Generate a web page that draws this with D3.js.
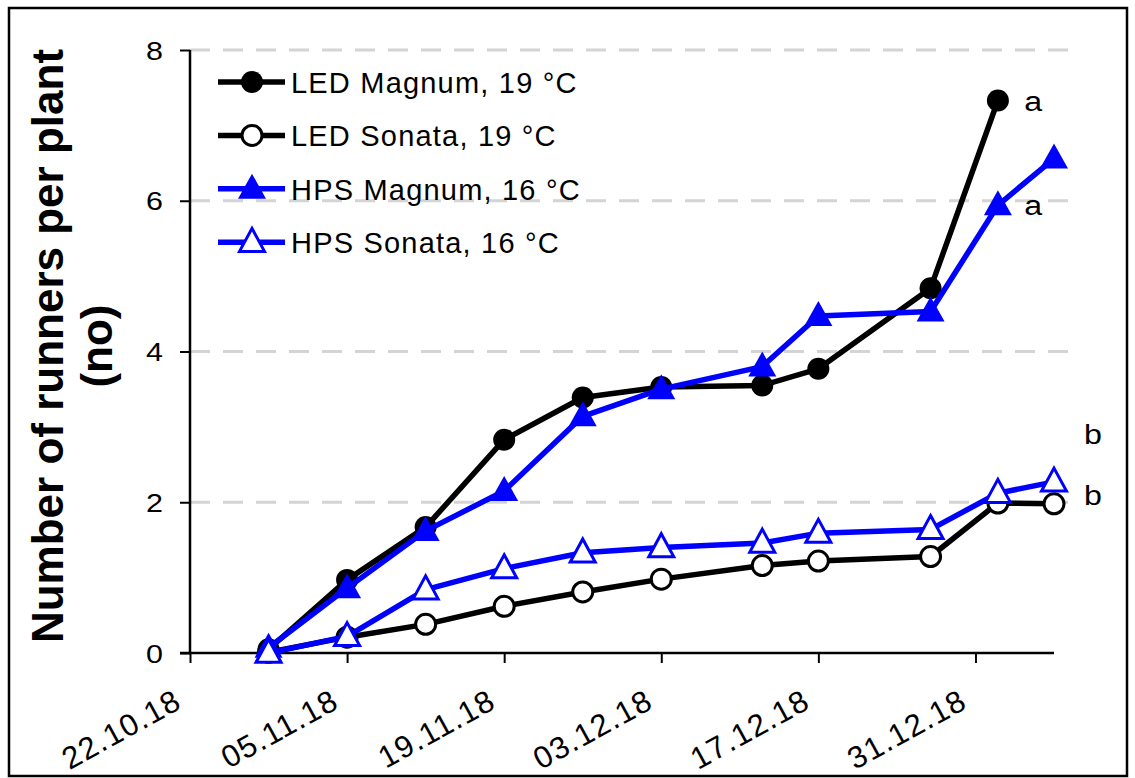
<!DOCTYPE html>
<html><head><meta charset="utf-8">
<script src="https://cdn.jsdelivr.net/npm/d3@7"></script>
<style>body{margin:0;background:#fff}svg{display:block}text{font-family:"Liberation Sans",Arial,sans-serif}</style>
</head><body><svg id="c" width="1135" height="778"></svg>
<script>
const dates = ["2018-10-29","2018-11-05","2018-11-12","2018-11-19","2018-11-26","2018-12-03","2018-12-12","2018-12-17","2018-12-27","2019-01-02","2019-01-07"];
const ledMagnum = [0.05,0.97,1.67,2.83,3.39,3.53,3.55,3.77,4.84,7.33];
const ledSonata = [0.01,0.21,0.38,0.62,0.81,0.98,1.16,1.22,1.28,1.99,1.98];
const hpsMagnum = [0.07,0.86,1.62,2.15,3.14,3.50,3.80,4.47,4.53,5.94,6.56];
const hpsSonata = [0.00,0.22,0.84,1.12,1.33,1.40,1.46,1.59,1.64,2.12,2.27];
const seriesNames = ["LED Magnum, 19 °C","LED Sonata, 19 °C","HPS Magnum, 16 °C","HPS Sonata, 16 °C"];
const letters = [{t:"a",date:"2019-01-04",v:7.33},{t:"a",date:"2019-01-04",v:5.95},{t:"b",date:"2019-01-07",v:2.9},{t:"b",date:"2019-01-07",v:2.1}];
const xTickLabels = ["22.10.18","05.11.18","19.11.18","03.12.18","17.12.18","31.12.18"];
const yTicks = [0,2,4,6,8];

const parse = d3.timeParse("%Y-%m-%d");
const svg = d3.select("#c");
const x = d3.scaleTime().domain([parse("2018-10-22"), parse("2019-01-07")]).range([190,1054]);
const y = d3.scaleLinear().domain([0,8]).range([653,50]);

svg.append("rect").attr("x",9).attr("y",8).attr("width",1118).attr("height",768)
  .attr("fill","none").attr("stroke","#000").attr("stroke-width",2.5);

// gridlines
svg.append("g").selectAll("line").data(yTicks.filter(d=>d>0)).join("line")
  .attr("x1",190).attr("x2",1075).attr("y1",d=>y(d)).attr("y2",d=>y(d))
  .attr("stroke","#d4d4d4").attr("stroke-width",3).attr("stroke-dasharray","20,13");

// axes
const yAxis = d3.axisLeft(y).tickValues(yTicks).tickSize(10).tickFormat(d3.format("d"));
const gy = svg.append("g").attr("transform","translate(190,0)").call(yAxis);
gy.select(".domain").attr("stroke-width",2.5).attr("d","M0,"+y(8)+"V"+y(0));
gy.selectAll(".tick line").attr("stroke-width",2);
gy.selectAll(".tick text").attr("font-size",25).attr("x",-27/1.22).attr("dy","0.36em").attr("fill","#000")
  .attr("transform","scale(1.22,1)")
  .style("font-family","'Liberation Sans',Arial,sans-serif");

const xTickDates = xTickLabels.map(s=>{const [dd,mm,yy]=s.split(".");return parse("20"+yy+"-"+mm+"-"+dd);});
const xAxis = d3.axisBottom(x).tickValues(xTickDates).tickSize(10).tickFormat((d,i)=>xTickLabels[i]);
const gx = svg.append("g").attr("transform","translate(0,653)").call(xAxis);
gx.select(".domain").attr("stroke-width",2.5).attr("d","M180,0H1054");
gx.selectAll(".tick line").attr("stroke-width",2);
gx.selectAll(".tick text").attr("font-size",31).attr("fill","#000").attr("y",0).attr("dy",0)
  .attr("text-anchor","end").attr("letter-spacing","1.2px")
  .attr("transform","translate(-7,54) rotate(-29)")
  .style("font-family","'Liberation Sans',Arial,sans-serif");

// y title
const yt = svg.append("text").attr("transform","translate(0,346) rotate(-90)")
  .attr("text-anchor","middle").attr("font-weight","bold").attr("font-size",44).attr("fill","#000");
yt.append("tspan").attr("x",0).attr("y",63).text("Number of runners per plant");
yt.append("tspan").attr("x",0).attr("y",112).text("(no)");

// series
const mk = vals => vals.map((v,i)=>({d:parse(dates[i]),v}));
const series = [
  {name:seriesNames[0], data:mk(ledMagnum), color:"#000", shape:"circle", fill:true},
  {name:seriesNames[1], data:mk(ledSonata), color:"#000", shape:"circle", fill:false},
  {name:seriesNames[2], data:mk(hpsMagnum), color:"#0000ff", shape:"triangle", fill:true},
  {name:seriesNames[3], data:mk(hpsSonata), color:"#0000ff", shape:"triangle", fill:false}
];
const line = d3.line().x(d=>x(d.d)).y(d=>y(d.v));
function drawMarker(g, s, cx, cy){
  if(s.shape==="circle"){
    g.append("circle").attr("cx",cx).attr("cy",cy).attr("r",s.fill?11:10)
      .attr("fill",s.fill?s.color:"#fff").attr("stroke",s.color).attr("stroke-width",s.fill?0:3);
  } else {
    const h = s.fill?25:23, w = s.fill?28:25;
    const p = d3.path(); p.moveTo(cx,cy-h*0.6); p.lineTo(cx+w/2,cy+h*0.4); p.lineTo(cx-w/2,cy+h*0.4); p.closePath();
    g.append("path").attr("d",p.toString()).attr("fill",s.fill?s.color:"#fff")
      .attr("stroke",s.color).attr("stroke-width",s.fill?0:3).attr("stroke-linejoin","miter");
  }
}
series.forEach(s=>{
  const g = svg.append("g");
  g.append("path").datum(s.data).attr("d",line).attr("fill","none").attr("stroke",s.color)
    .attr("stroke-width",5.5).attr("stroke-linejoin","round");
  s.data.forEach(d=>drawMarker(g,s,x(d.d),y(d.v)));
});

// letters
svg.append("g").selectAll("text").data(letters).join("text")
  .attr("transform",d=>"translate("+(x(parse(d.date))+(d.t==="a"?4:30))+","+(y(d.v)+10)+") scale(1.15,1)")
  .attr("font-size",28).attr("fill","#000").text(d=>d.t);

// legend
const lg = svg.append("g");
series.forEach((s,i)=>{
  const cy = 82 + i*53.4;
  lg.append("line").attr("x1",218).attr("x2",285).attr("y1",cy).attr("y2",cy)
    .attr("stroke",s.color).attr("stroke-width",5.5);
  drawMarker(lg,s,252,cy);
  lg.append("text").attr("x",291).attr("y",cy+11).attr("font-size",29).attr("letter-spacing","1.2px")
    .attr("fill","#000").text(s.name);
});
</script></body></html>
